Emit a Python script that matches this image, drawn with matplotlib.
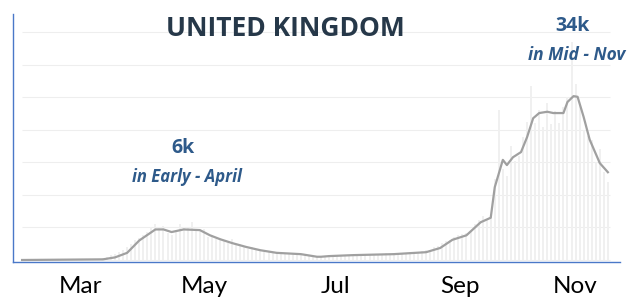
import numpy as np
import matplotlib
matplotlib.use("Agg")
import matplotlib.pyplot as plt

plt.rcParams["font.family"] = ["Lato", "DejaVu Sans"]

# 7-day average (cases), read at key days counted from 1 Feb 2020
line_days = [0, 40, 46, 52, 58, 66, 70, 74, 80, 88, 93, 98, 104, 111, 118, 126,
             138, 146, 148, 152, 164, 184, 200, 207, 213, 220, 227, 232, 234,
             238, 240, 243, 247, 250, 253, 256, 260, 263, 268, 270, 273, 275,
             278, 281, 286, 290]
line_vals = [0, 100, 400, 1100, 3000, 4700, 4700, 4300, 4700, 4600, 3800, 3200,
             2600, 2000, 1500, 1100, 900, 500, 500, 600, 750, 900, 1200, 1850,
             3100, 3800, 5800, 6500, 11200, 15400, 14600, 15800, 16600, 18900,
             21800, 22600, 22800, 22600, 22600, 24300, 25200, 25100, 22000,
             18500, 14900, 13500]

# daily new cases (thousands), one value every 2 days from 1 Feb
bar_vals = [0, 0, 0, 0, 0, 0, 0, 0, 0, 0,
            0, 0, 0, 0, 0.01, 0.02, 0.03, 0.05, 0.08, 0.12,
            0.3, 0.5, 0.7, 0.9, 1.2, 1.5, 2.0, 2.5, 3.0, 3.4,
            3.8, 4.3, 5.0, 5.6, 4.9, 5.2, 4.2, 3.9, 4.6, 5.5,
            5.0, 4.9, 5.8, 4.4, 4.6, 4.8, 3.5, 3.9, 3.2, 3.4,
            3.0, 2.6, 3.2, 2.3, 2.4, 2.1, 1.7, 2.0, 1.5, 1.6,
            1.3, 1.2, 1.3, 1.0, 1.0, 0.9, 0.9, 1.0, 0.8, 0.8,
            0.7, 0.6, 0.5, 0.5, 0.55, 0.6, 0.6, 0.65, 0.7, 0.6,
            0.75, 0.7, 0.8, 0.75, 0.8, 0.85, 0.8, 0.9, 0.85, 0.9,
            1.0, 0.9, 1.0, 1.1, 1.0, 1.1, 1.2, 1.1, 1.3, 1.4,
            1.6, 1.5, 2.0, 2.2, 2.6, 2.9, 3.0, 3.6, 3.9, 4.0,
            4.2, 4.4, 5.5, 6.2, 6.8, 6.2, 7.1, 12.5, 23.0, 14.0,
            12.9, 17.5, 15.2, 16.0, 18.9, 21.3, 26.7, 21.0, 23.0, 20.5,
            24.2, 20.9, 22.9, 21.0, 23.5, 25.0, 33.5, 27.0, 24.0, 20.0,
            19.0, 18.5, 15.0, 17.0, 13.5, 12.0]
bar_days = 2 * np.arange(len(bar_vals))

month_labels = ["Mar", "May", "Jul", "Sep", "Nov"]
month_pos = [29, 90, 155, 217, 274]

grid_levels = [0, 5000, 10000, 15000, 20000, 25000, 30000, 35000]

W, H = 631, 303
fig = plt.figure(figsize=(W / 100, H / 100), dpi=100)
ax = fig.add_axes([13 / W, 41 / H, 607 / W, 248 / H])

ax.hlines(grid_levels, 0, 291, color="#eeeeee", lw=0.8, zorder=0)
ax.bar(bar_days, np.array(bar_vals) * 1000, width=1.0, color="#f0f0f0", lw=0, zorder=1)
ax.plot(line_days, line_vals, color="#a0a0a0", lw=1.6, zorder=2)

ax.set_xlim(-4.5, 296)
ax.set_ylim(-308, 37835)
ax.set_yticks([])
ax.set_xticks(month_pos)
ax.set_xticklabels(month_labels, fontsize=17.5)
ax.tick_params(axis="x", length=0, pad=10)
for s in ["top", "right"]:
    ax.spines[s].set_visible(False)
for s in ["left", "bottom"]:
    ax.spines[s].set_color("#4a78c8")
    ax.spines[s].set_linewidth(1.0)

blue = "#2e5a8a"
ann = ["Open Sans", "DejaVu Sans"]
fig.text(285 / W, 1 - 29 / H, "UNITED KINGDOM", ha="center", va="center",
         fontsize=19, fontweight="bold", color="#263849", family=ann)
fig.text(183 / W, 1 - 148 / H, "6k", ha="center", va="center",
         fontsize=14, fontweight="bold", color=blue, family=ann)
fig.text(187 / W, 1 - 177 / H, "in Early - April", ha="center", va="center",
         fontsize=12, fontweight="bold", fontstyle="italic", color=blue, family=ann)
fig.text(573 / W, 1 - 26 / H, "34k", ha="center", va="center",
         fontsize=14, fontweight="bold", color=blue, family=ann)
fig.text(577 / W, 1 - 55 / H, "in Mid - Nov", ha="center", va="center",
         fontsize=12.5, fontweight="bold", fontstyle="italic", color=blue, family=ann)

fig.savefig("out.png", dpi=100)
